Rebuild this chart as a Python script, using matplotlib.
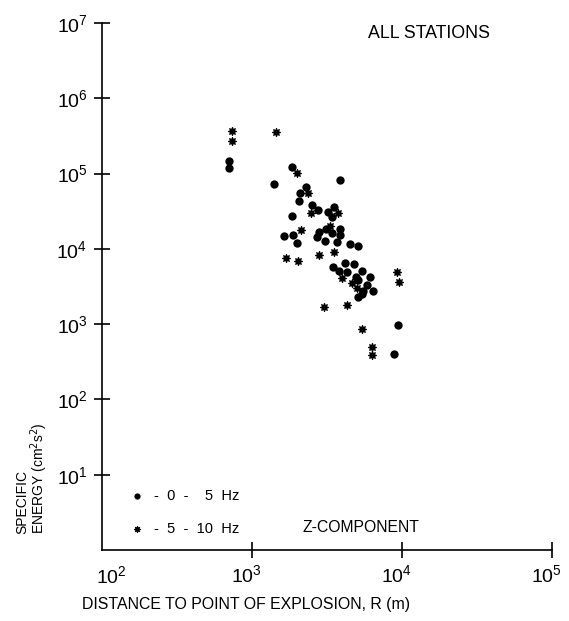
#!/usr/bin/env python3
import matplotlib
matplotlib.use("Agg")
import matplotlib.pyplot as plt
from matplotlib.transforms import ScaledTranslation

plt.rcParams["font.family"] = ["Liberation Sans", "DejaVu Sans"]

# 0 - 5 Hz band (filled circles)
dist_0_5 = [703, 703, 1402, 1849, 3862, 2291, 2089, 2057, 2512, 2754,
            3521, 3214, 3415, 1849, 1634, 1877, 1995, 2797, 3100, 2712,
            3069, 3415, 3862, 3690, 3862, 4502, 5093, 3467, 4169, 4786,
            3802, 4299, 5412, 4936, 5093, 6118, 5845, 5495, 6412, 5093,
            5412, 9400, 8846]
energy_0_5 = [1.47e5, 1.19e5, 7.3e4, 1.22e5, 8.2e4, 6.6e4, 5.5e4, 4.3e4, 3.8e4, 3.3e4,
              3.6e4, 3.1e4, 2.65e4, 2.73e4, 1.48e4, 1.53e4, 1.2e4, 1.68e4, 1.84e4, 1.44e4,
              1.27e4, 1.63e4, 1.84e4, 1.24e4, 1.53e4, 1.16e4, 1.09e4, 5.75e3, 6.5e3, 6.3e3,
              5.1e3, 4.9e3, 5.1e3, 4.25e3, 3.85e3, 4.25e3, 3.3e3, 2.75e3, 2.75e3, 2.3e3,
              2.5e3, 975, 402]

# 5 - 10 Hz band (asterisks)
dist_5_10 = [736, 736, 1445, 1995, 2362, 2473, 3744, 2122, 3311, 1686,
             2026, 2797, 3521, 3981, 4645, 5012, 9261, 9550, 3020, 4299,
             5412, 6310, 6310]
energy_5_10 = [3.68e5, 2.71e5, 3.57e5, 1.02e5, 5.5e4, 3.0e4, 3.0e4, 1.78e4, 2.0e4, 7.6e3,
               6.9e3, 8.3e3, 9.1e3, 4.1e3, 3.5e3, 3.0e3, 4.9e3, 3.6e3, 1.69e3, 1.8e3,
               863, 498, 390]

x_ticks = [1e2, 1e3, 1e4, 1e5]
x_labels = [r"$\mathdefault{10^{%d}}$" % k for k in range(2, 6)]
y_ticks = [1e1, 1e2, 1e3, 1e4, 1e5, 1e6, 1e7]
y_labels = [r"$\mathdefault{10^{%d}}$" % k for k in range(1, 8)]

W, H = 569, 621
fig = plt.figure(figsize=(W / 100, H / 100), dpi=100)
ax = fig.add_axes([102 / W, 1 - 550 / H, 450 / W, 527 / H])

ax.scatter(dist_0_5, energy_0_5, s=36, marker="o", color="black",
           linewidths=0, label="-  0  -    5  Hz")
ax.scatter(dist_5_10, energy_5_10, s=34, marker=(8, 1, 0), color="black",
           edgecolors="black", linewidths=0.8, label="-  5  -  10  Hz")

ax.set_xscale("log")
ax.set_yscale("log")
ax.set_xlim(1e2, 1e5)
ax.set_ylim(1e0, 1e7)
ax.minorticks_off()

ax.set_xticks(x_ticks[1:])
ax.set_xticklabels(x_labels[1:])
ax.set_yticks(y_ticks)
ax.set_yticklabels(y_labels)

for side in ("top", "right"):
    ax.spines[side].set_visible(False)
for side in ("left", "bottom"):
    ax.spines[side].set_linewidth(1.2)

tick_size = 14
ax.tick_params(axis="both", which="major", direction="inout", length=11,
               width=1.2, labelsize=tick_size)
ax.tick_params(axis="x", pad=5)
ax.tick_params(axis="y", pad=5)

px = 1 / 100
shift = ScaledTranslation(-6 * px, 0, fig.dpi_scale_trans)
for lab in ax.get_xticklabels():
    lab.set_transform(lab.get_transform() + shift)

# 10^2 sits just right of the corner, no tick mark there
ax.text(x_ticks[0], 0, x_labels[0], fontsize=tick_size, ha="center", va="top",
        transform=ax.get_xaxis_transform()
        + ScaledTranslation(9 * px, -15 * px, fig.dpi_scale_trans))

ax.legend(loc="lower left", bbox_to_anchor=(0.022, 0.008), frameon=False,
          fontsize=10.5, handletextpad=0.2, markerscale=0.75,
          labelspacing=1.3, borderpad=0.2)

ax.text(0.445, 0.042, "Z-COMPONENT", transform=ax.transAxes, fontsize=11.3,
        va="center", ha="left")
fig.text(368 / W, 1 - 33 / H, "ALL STATIONS", fontsize=12.8, va="center", ha="left")
fig.text(82 / W, 1 - 604 / H, "DISTANCE TO POINT OF EXPLOSION, R (m)",
         fontsize=11.4, va="center", ha="left")
fig.text(33 / W, 1 - 534 / H, "SPECIFIC\nENERGY (cm$^2$s$^2$)", fontsize=10,
         rotation=90, ha="center", va="bottom", multialignment="left",
         linespacing=0.95)

fig.savefig("out.png", dpi=100)
